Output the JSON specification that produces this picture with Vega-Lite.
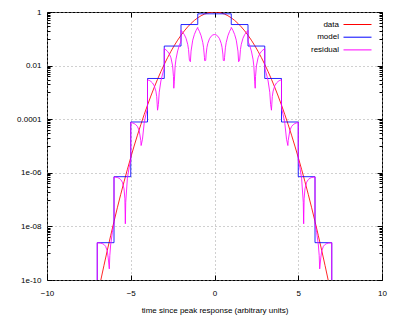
{
"$schema": "https://vega.github.io/schema/vega-lite/v6.json",
"width": 335, "height": 268,
"autosize": "none",
"padding": {"left": 47, "top": 12, "right": 17, "bottom": 39},
"config": {
  "font": "Liberation Sans",
  "view": {"stroke": "#000", "strokeWidth": 1},
  "legend": {"orient": "none", "legendX": 259, "legendY": 8, "padding": 0, "symbolType": "M-3.5,0H3.5", "symbolSize": 64, "symbolStrokeWidth": 1, "labelAlign": "right", "labelOffset": -23, "symbolOffset": 47, "rowPadding": 3.7, "labelFontSize": 8, "labelFont": "Liberation Sans", "labelColor": "#000"}
},
"data": {"values": [
{"s":"data","x":-7.2,"y":5.5e-12},{"s":"data","x":-7,"y":2.29e-11},{"s":"data","x":-6.8,"y":9.1e-11},{"s":"data","x":-6.6,"y":3.47e-10},{"s":"data","x":-6.4,"y":1.276e-9},{"s":"data","x":-6.2,"y":4.5e-9},{"s":"data","x":-6,"y":1.523e-8},{"s":"data","x":-5.8,"y":4.96e-8},{"s":"data","x":-5.6,"y":1.55e-7},{"s":"data","x":-5.4,"y":4.656e-7},{"s":"data","x":-5.2,"y":1.344e-6},{"s":"data","x":-5,"y":3.727e-6},{"s":"data","x":-4.8,"y":9.93e-6},{"s":"data","x":-4.6,"y":2.542e-5},{"s":"data","x":-4.4,"y":6.25e-5},{"s":"data","x":-4.2,"y":1.478e-4},{"s":"data","x":-4,"y":3.355e-4},{"s":"data","x":-3.8,"y":7.32e-4},{"s":"data","x":-3.6,"y":1.534e-3},{"s":"data","x":-3.4,"y":3.089e-3},{"s":"data","x":-3.2,"y":5.976e-3},{"s":"data","x":-3,"y":0.011109},{"s":"data","x":-2.8,"y":0.019841},{"s":"data","x":-2.6,"y":0.034047},{"s":"data","x":-2.4,"y":0.056135},{"s":"data","x":-2.2,"y":0.088922},{"s":"data","x":-2,"y":0.135335},{"s":"data","x":-1.8,"y":0.197899},{"s":"data","x":-1.6,"y":0.278037},{"s":"data","x":-1.4,"y":0.375311},{"s":"data","x":-1.2,"y":0.486752},{"s":"data","x":-1,"y":0.606531},{"s":"data","x":-0.8,"y":0.726149},{"s":"data","x":-0.6,"y":0.83527},{"s":"data","x":-0.4,"y":0.923116},{"s":"data","x":-0.2,"y":0.980199},{"s":"data","x":0,"y":1},
{"s":"data","x":0.2,"y":0.980199},{"s":"data","x":0.4,"y":0.923116},{"s":"data","x":0.6,"y":0.83527},{"s":"data","x":0.8,"y":0.726149},{"s":"data","x":1,"y":0.606531},{"s":"data","x":1.2,"y":0.486752},{"s":"data","x":1.4,"y":0.375311},{"s":"data","x":1.6,"y":0.278037},{"s":"data","x":1.8,"y":0.197899},{"s":"data","x":2,"y":0.135335},{"s":"data","x":2.2,"y":0.088922},{"s":"data","x":2.4,"y":0.056135},{"s":"data","x":2.6,"y":0.034047},{"s":"data","x":2.8,"y":0.019841},{"s":"data","x":3,"y":0.011109},{"s":"data","x":3.2,"y":5.976e-3},{"s":"data","x":3.4,"y":3.089e-3},{"s":"data","x":3.6,"y":1.534e-3},{"s":"data","x":3.8,"y":7.32e-4},{"s":"data","x":4,"y":3.355e-4},{"s":"data","x":4.2,"y":1.478e-4},{"s":"data","x":4.4,"y":6.25e-5},{"s":"data","x":4.6,"y":2.542e-5},{"s":"data","x":4.8,"y":9.93e-6},{"s":"data","x":5,"y":3.727e-6},{"s":"data","x":5.2,"y":1.344e-6},{"s":"data","x":5.4,"y":4.656e-7},{"s":"data","x":5.6,"y":1.55e-7},{"s":"data","x":5.8,"y":4.96e-8},{"s":"data","x":6,"y":1.523e-8},{"s":"data","x":6.2,"y":4.5e-9},{"s":"data","x":6.4,"y":1.276e-9},{"s":"data","x":6.6,"y":3.47e-10},{"s":"data","x":6.8,"y":9.1e-11},{"s":"data","x":7,"y":2.29e-11},{"s":"data","x":7.2,"y":5.5e-12},
{"s":"model","x":-7,"y":1e-12},{"s":"model","x":-7,"y":2.4698e-9},{"s":"model","x":-6,"y":2.4698e-9},{"s":"model","x":-6,"y":7.1604e-7},{"s":"model","x":-5,"y":7.1604e-7},{"s":"model","x":-5,"y":7.8668e-5},{"s":"model","x":-4,"y":7.8668e-5},{"s":"model","x":-4,"y":0.0033055},{"s":"model","x":-3,"y":0.0033055},{"s":"model","x":-3,"y":0.053642},{"s":"model","x":-2,"y":0.053642},{"s":"model","x":-2,"y":0.34066},{"s":"model","x":-1,"y":0.34066},{"s":"model","x":-1,"y":0.85562},{"s":"model","x":1,"y":0.85562},{"s":"model","x":1,"y":0.34066},{"s":"model","x":2,"y":0.34066},{"s":"model","x":2,"y":0.053642},{"s":"model","x":3,"y":0.053642},{"s":"model","x":3,"y":0.0033055},{"s":"model","x":4,"y":0.0033055},{"s":"model","x":4,"y":7.8668e-5},{"s":"model","x":5,"y":7.8668e-5},{"s":"model","x":5,"y":7.1604e-7},{"s":"model","x":6,"y":7.1604e-7},{"s":"model","x":6,"y":2.4698e-9},{"s":"model","x":7,"y":2.4698e-9},{"s":"model","x":7,"y":1e-12},
{"s":"residual","x":-7.2,"y":5.5e-12},{"s":"residual","x":-7,"y":2.29e-11},{"s":"residual","x":-7,"y":2.447e-9},{"s":"residual","x":-6.9,"y":2.424e-9},{"s":"residual","x":-6.8,"y":2.379e-9},{"s":"residual","x":-6.7,"y":2.291e-9},{"s":"residual","x":-6.6,"y":2.123e-9},{"s":"residual","x":-6.5,"y":1.801e-9},{"s":"residual","x":-6.4,"y":1.194e-9},{"s":"residual","x":-6.35,"y":7.16e-10},{"s":"residual","x":-6.28,"y":2.6e-10},{"s":"residual","x":-6.25,"y":8.24e-10},{"s":"residual","x":-6.2,"y":2.03e-9},{"s":"residual","x":-6.1,"y":5.85e-9},{"s":"residual","x":-6,"y":1.276e-8},
{"s":"residual","x":-6,"y":7.008e-7},{"s":"residual","x":-5.9,"y":6.884e-7},{"s":"residual","x":-5.8,"y":6.665e-7},{"s":"residual","x":-5.7,"y":6.28e-7},{"s":"residual","x":-5.6,"y":5.611e-7},{"s":"residual","x":-5.5,"y":4.461e-7},{"s":"residual","x":-5.4,"y":2.505e-7},{"s":"residual","x":-5.35,"y":1.069e-7},{"s":"residual","x":-5.323,"y":1.25e-8},{"s":"residual","x":-5.3,"y":7.89e-8},{"s":"residual","x":-5.2,"y":6.28e-7},{"s":"residual","x":-5.1,"y":1.533e-6},{"s":"residual","x":-5,"y":3.011e-6},
{"s":"residual","x":-5,"y":7.49e-5},{"s":"residual","x":-4.9,"y":7.26e-5},{"s":"residual","x":-4.8,"y":6.87e-5},{"s":"residual","x":-4.7,"y":6.27e-5},{"s":"residual","x":-4.6,"y":5.32e-5},{"s":"residual","x":-4.5,"y":3.86e-5},{"s":"residual","x":-4.4,"y":1.6e-5},{"s":"residual","x":-4.38,"y":1.04e-5},{"s":"residual","x":-4.3,"y":1.79e-5},{"s":"residual","x":-4.2,"y":6.91e-5},{"s":"residual","x":-4.1,"y":1.451e-4},{"s":"residual","x":-4,"y":2.568e-4},
{"s":"residual","x":-4,"y":2.9705e-3},{"s":"residual","x":-3.9,"y":2.8075e-3},{"s":"residual","x":-3.8,"y":2.5735e-3},{"s":"residual","x":-3.7,"y":2.2405e-3},{"s":"residual","x":-3.6,"y":1.7715e-3},{"s":"residual","x":-3.5,"y":1.1185e-3},{"s":"residual","x":-3.45,"y":7.03e-4},{"s":"residual","x":-3.4,"y":2.165e-4},{"s":"residual","x":-3.35,"y":3.51e-4},{"s":"residual","x":-3.3,"y":1.013e-3},{"s":"residual","x":-3.2,"y":2.671e-3},{"s":"residual","x":-3.1,"y":4.884e-3},{"s":"residual","x":-3,"y":7.804e-3},
{"s":"residual","x":-3,"y":0.04253},{"s":"residual","x":-2.9,"y":0.03872},{"s":"residual","x":-2.8,"y":0.0338},{"s":"residual","x":-2.7,"y":0.02752},{"s":"residual","x":-2.6,"y":0.0196},{"s":"residual","x":-2.5,"y":0.00971},{"s":"residual","x":-2.45,"y":0.00392},{"s":"residual","x":-2.43,"y":0.00143},{"s":"residual","x":-2.4,"y":0.00249},{"s":"residual","x":-2.35,"y":0.00959},{"s":"residual","x":-2.3,"y":0.01736},{"s":"residual","x":-2.2,"y":0.03528},{"s":"residual","x":-2.1,"y":0.05661},{"s":"residual","x":-2,"y":0.08169},
{"s":"residual","x":-2,"y":0.20533},{"s":"residual","x":-1.9,"y":0.17619},{"s":"residual","x":-1.8,"y":0.14276},{"s":"residual","x":-1.7,"y":0.10491},{"s":"residual","x":-1.6,"y":0.06262},{"s":"residual","x":-1.55,"y":0.03985},{"s":"residual","x":-1.5,"y":0.01601},{"s":"residual","x":-1.44,"y":0.01394},{"s":"residual","x":-1.4,"y":0.03465},{"s":"residual","x":-1.3,"y":0.0889},{"s":"residual","x":-1.2,"y":0.14609},{"s":"residual","x":-1.1,"y":0.20541},{"s":"residual","x":-1,"y":0.26587},
{"s":"residual","x":-1,"y":0.24909},{"s":"residual","x":-0.9,"y":0.18864},{"s":"residual","x":-0.8,"y":0.12947},{"s":"residual","x":-0.7,"y":0.07292},{"s":"residual","x":-0.65,"y":0.04606},{"s":"residual","x":-0.6,"y":0.02035},{"s":"residual","x":-0.59,"y":0.01536},{"s":"residual","x":-0.525,"y":0.01564},{"s":"residual","x":-0.5,"y":0.02688},{"s":"residual","x":-0.45,"y":0.04809},{"s":"residual","x":-0.4,"y":0.0675},{"s":"residual","x":-0.3,"y":0.10038},{"s":"residual","x":-0.2,"y":0.12458},{"s":"residual","x":-0.1,"y":0.13939},{"s":"residual","x":0,"y":0.14438},
{"s":"residual","x":0.1,"y":0.13939},{"s":"residual","x":0.2,"y":0.12458},{"s":"residual","x":0.3,"y":0.10038},{"s":"residual","x":0.4,"y":0.0675},{"s":"residual","x":0.45,"y":0.04809},{"s":"residual","x":0.5,"y":0.02688},{"s":"residual","x":0.525,"y":0.01564},{"s":"residual","x":0.59,"y":0.01536},{"s":"residual","x":0.6,"y":0.02035},{"s":"residual","x":0.65,"y":0.04606},{"s":"residual","x":0.7,"y":0.07292},{"s":"residual","x":0.8,"y":0.12947},{"s":"residual","x":0.9,"y":0.18864},{"s":"residual","x":1,"y":0.24909},
{"s":"residual","x":1,"y":0.26587},{"s":"residual","x":1.1,"y":0.20541},{"s":"residual","x":1.2,"y":0.14609},{"s":"residual","x":1.3,"y":0.0889},{"s":"residual","x":1.4,"y":0.03465},{"s":"residual","x":1.44,"y":0.01394},{"s":"residual","x":1.5,"y":0.01601},{"s":"residual","x":1.55,"y":0.03985},{"s":"residual","x":1.6,"y":0.06262},{"s":"residual","x":1.7,"y":0.10491},{"s":"residual","x":1.8,"y":0.14276},{"s":"residual","x":1.9,"y":0.17619},{"s":"residual","x":2,"y":0.20533},
{"s":"residual","x":2,"y":0.08169},{"s":"residual","x":2.1,"y":0.05661},{"s":"residual","x":2.2,"y":0.03528},{"s":"residual","x":2.3,"y":0.01736},{"s":"residual","x":2.35,"y":0.00959},{"s":"residual","x":2.4,"y":0.00249},{"s":"residual","x":2.43,"y":0.00143},{"s":"residual","x":2.45,"y":0.00392},{"s":"residual","x":2.5,"y":0.00971},{"s":"residual","x":2.6,"y":0.0196},{"s":"residual","x":2.7,"y":0.02752},{"s":"residual","x":2.8,"y":0.0338},{"s":"residual","x":2.9,"y":0.03872},{"s":"residual","x":3,"y":0.04253},
{"s":"residual","x":3,"y":7.804e-3},{"s":"residual","x":3.1,"y":4.884e-3},{"s":"residual","x":3.2,"y":2.671e-3},{"s":"residual","x":3.3,"y":1.013e-3},{"s":"residual","x":3.35,"y":3.51e-4},{"s":"residual","x":3.4,"y":2.165e-4},{"s":"residual","x":3.45,"y":7.03e-4},{"s":"residual","x":3.5,"y":1.1185e-3},{"s":"residual","x":3.6,"y":1.7715e-3},{"s":"residual","x":3.7,"y":2.2405e-3},{"s":"residual","x":3.8,"y":2.5735e-3},{"s":"residual","x":3.9,"y":2.8075e-3},{"s":"residual","x":4,"y":2.9705e-3},
{"s":"residual","x":4,"y":2.568e-4},{"s":"residual","x":4.1,"y":1.451e-4},{"s":"residual","x":4.2,"y":6.91e-5},{"s":"residual","x":4.3,"y":1.79e-5},{"s":"residual","x":4.38,"y":1.04e-5},{"s":"residual","x":4.4,"y":1.6e-5},{"s":"residual","x":4.5,"y":3.86e-5},{"s":"residual","x":4.6,"y":5.32e-5},{"s":"residual","x":4.7,"y":6.27e-5},{"s":"residual","x":4.8,"y":6.87e-5},{"s":"residual","x":4.9,"y":7.26e-5},{"s":"residual","x":5,"y":7.49e-5},
{"s":"residual","x":5,"y":3.011e-6},{"s":"residual","x":5.1,"y":1.533e-6},{"s":"residual","x":5.2,"y":6.28e-7},{"s":"residual","x":5.3,"y":7.89e-8},{"s":"residual","x":5.323,"y":1.25e-8},{"s":"residual","x":5.35,"y":1.069e-7},{"s":"residual","x":5.4,"y":2.505e-7},{"s":"residual","x":5.5,"y":4.461e-7},{"s":"residual","x":5.6,"y":5.611e-7},{"s":"residual","x":5.7,"y":6.28e-7},{"s":"residual","x":5.8,"y":6.665e-7},{"s":"residual","x":5.9,"y":6.884e-7},{"s":"residual","x":6,"y":7.008e-7},
{"s":"residual","x":6,"y":1.276e-8},{"s":"residual","x":6.1,"y":5.85e-9},{"s":"residual","x":6.2,"y":2.03e-9},{"s":"residual","x":6.25,"y":8.24e-10},{"s":"residual","x":6.28,"y":2.6e-10},{"s":"residual","x":6.35,"y":7.16e-10},{"s":"residual","x":6.4,"y":1.194e-9},{"s":"residual","x":6.5,"y":1.801e-9},{"s":"residual","x":6.6,"y":2.123e-9},{"s":"residual","x":6.7,"y":2.291e-9},{"s":"residual","x":6.8,"y":2.379e-9},{"s":"residual","x":6.9,"y":2.424e-9},{"s":"residual","x":7,"y":2.447e-9},
{"s":"residual","x":7,"y":2.29e-11},{"s":"residual","x":7.2,"y":5.5e-12}
]},
"resolve": {"axis": {"x": "independent", "y": "independent"}},
"layer": [
  {
    "mark": {"type": "line", "strokeWidth": 1, "strokeOpacity": 0.85, "clip": true},
    "encoding": {
      "x": {"field": "x", "type": "quantitative", "scale": {"domain": [-10, 10], "nice": false, "zero": false},
            "axis": {"orient": "bottom", "values": [-10, -5, 0, 5, 10], "ticks": false, "domain": false, "grid": true, "gridColor": "#a0a0a0", "gridDash": [1, 3], "gridWidth": 1, "labelFontSize": 8, "labelColor": "#000", "labelPadding": 9, "labelFlush": false, "labelOverlap": false, "title": "time since peak response (arbitrary units)", "titleFontSize": 8, "titleFontWeight": "normal", "titleColor": "#000", "titlePadding": 9}},
      "y": {"field": "y", "type": "quantitative", "scale": {"type": "log", "domain": [1e-10, 1], "nice": false},
            "axis": {"orient": "left", "values": [1, 0.01, 0.0001, 1e-6, 1e-8, 1e-10], "labelExpr": "datum.value > 0.5 ? '1' : datum.value > 0.005 ? '0.01' : datum.value > 0.00005 ? '0.0001' : datum.value > 5e-7 ? '1e-06' : datum.value > 5e-9 ? '1e-08' : '1e-10'", "ticks": false, "domain": false, "grid": true, "gridColor": "#a0a0a0", "gridDash": [1, 3], "gridWidth": 1, "labelFontSize": 8, "labelColor": "#000", "labelPadding": 6, "labelFlush": false, "labelOverlap": false, "title": null}},
      "color": {"field": "s", "type": "nominal", "scale": {"domain": ["data", "model", "residual"], "range": ["#ff0000", "#0000ff", "#ff00ff"]}, "legend": {"title": null}}
    }
  },
  {
    "transform": [{"filter": "false"}],
    "mark": {"type": "line"},
    "encoding": {
      "x": {"field": "x", "type": "quantitative", "scale": {"domain": [-10, 10], "nice": false, "zero": false},
            "axis": {"orient": "bottom", "values": [-10, -5, 0, 5, 10], "labels": false, "domain": false, "grid": false, "ticks": true, "tickSize": -5, "tickColor": "#000", "tickWidth": 1, "title": null}},
      "y": {"field": "y", "type": "quantitative", "scale": {"type": "log", "domain": [1e-10, 1], "nice": false},
            "axis": {"orient": "left", "values": [1, 0.01, 0.0001, 1e-6, 1e-8, 1e-10], "labels": false, "domain": false, "grid": false, "ticks": true, "tickSize": -5, "tickColor": "#000", "tickWidth": 1, "title": null}}
    }
  },
  {
    "transform": [{"filter": "false"}],
    "mark": {"type": "line"},
    "encoding": {
      "x": {"field": "x", "type": "quantitative", "scale": {"domain": [-10, 10], "nice": false, "zero": false},
            "axis": {"orient": "top", "values": [-10, -5, 0, 5, 10], "labels": false, "domain": false, "grid": false, "ticks": true, "tickSize": -5, "tickColor": "#000", "tickWidth": 1, "title": null}},
      "y": {"field": "y", "type": "quantitative", "scale": {"type": "log", "domain": [1e-10, 1], "nice": false},
            "axis": {"orient": "right", "values": [1, 0.01, 0.0001, 1e-6, 1e-8, 1e-10], "labels": false, "domain": false, "grid": false, "ticks": true, "tickSize": -5, "tickColor": "#000", "tickWidth": 1, "title": null}}
    }
  },
  {
    "transform": [{"filter": "false"}],
    "mark": {"type": "line"},
    "encoding": {
      "x": {"field": "x", "type": "quantitative", "scale": {"domain": [-10, 10], "nice": false, "zero": false}, "axis": null},
      "y": {"field": "y", "type": "quantitative", "scale": {"type": "log", "domain": [1e-10, 1], "nice": false},
            "axis": {"orient": "left", "values": [0.1,0.2,0.3,0.4,0.5,0.6,0.7,0.8,0.9,0.001,0.002,0.003,0.004,0.005,0.006,0.007,0.008,0.009,1e-5,2e-5,3e-5,4e-5,5e-5,6e-5,7e-5,8e-5,9e-5,1e-7,2e-7,3e-7,4e-7,5e-7,6e-7,7e-7,8e-7,9e-7,1e-9,2e-9,3e-9,4e-9,5e-9,6e-9,7e-9,8e-9,9e-9], "labels": false, "domain": false, "grid": false, "ticks": true, "tickSize": -3, "tickColor": "#000", "tickWidth": 1, "title": null}}
    }
  },
  {
    "transform": [{"filter": "false"}],
    "mark": {"type": "line"},
    "encoding": {
      "x": {"field": "x", "type": "quantitative", "scale": {"domain": [-10, 10], "nice": false, "zero": false}, "axis": null},
      "y": {"field": "y", "type": "quantitative", "scale": {"type": "log", "domain": [1e-10, 1], "nice": false},
            "axis": {"orient": "right", "values": [0.1,0.2,0.3,0.4,0.5,0.6,0.7,0.8,0.9,0.001,0.002,0.003,0.004,0.005,0.006,0.007,0.008,0.009,1e-5,2e-5,3e-5,4e-5,5e-5,6e-5,7e-5,8e-5,9e-5,1e-7,2e-7,3e-7,4e-7,5e-7,6e-7,7e-7,8e-7,9e-7,1e-9,2e-9,3e-9,4e-9,5e-9,6e-9,7e-9,8e-9,9e-9], "labels": false, "domain": false, "grid": false, "ticks": true, "tickSize": -3, "tickColor": "#000", "tickWidth": 1, "title": null}}
    }
  }
]
}
